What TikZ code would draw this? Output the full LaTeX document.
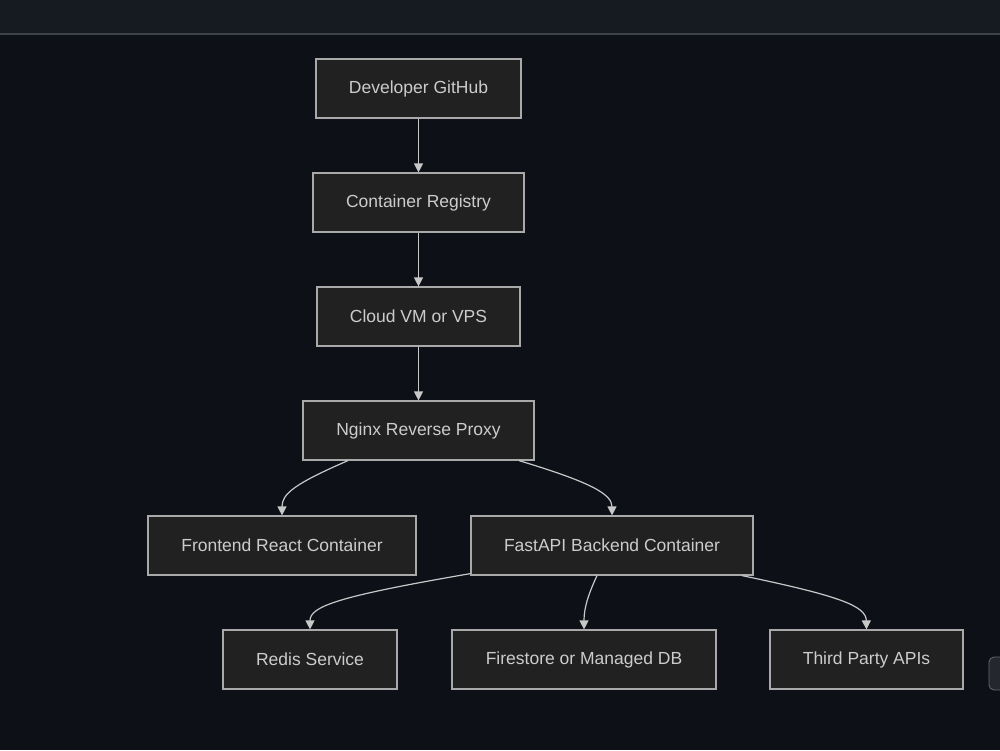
\documentclass[tikz,border=0pt]{standalone}
\usepackage{fontspec}
\setmainfont{Liberation Sans}
\usetikzlibrary{positioning,arrows.meta}
\definecolor{bgdark}  {HTML}{0D1017}
\definecolor{barfill} {HTML}{161B22}
\definecolor{barline} {HTML}{3D424A}
\definecolor{boxfill} {HTML}{212121}
\definecolor{boxline} {HTML}{A9A9A9}
\definecolor{txt}     {HTML}{CCCCCC}
\definecolor{wire}    {HTML}{C8C8C8}
\definecolor{knob}    {HTML}{24272D}
\tikzset{
  every node/.style={font=\fontsize{17.5}{21}\selectfont},
  % --- nodes
  svc/.style  = {draw=boxline, fill=boxfill, text=txt, line width=1.2pt,
                 minimum height=59pt, inner sep=0pt, align=center},
  % --- edges
  link/.style = {draw=wire, line width=1.2pt,
                 -{Triangle[width=9pt,length=9pt]}},
}
\begin{document}
\begin{tikzpicture}[x=1pt,y=-1pt]
  \fill[bgdark] (0,0) rectangle (1000,750);
  \useasboundingbox (0,0) rectangle (1000,750);
  \fill[barfill] (0,0) rectangle (1000,34);
  \draw[barline,line width=1.5pt] (0,34) -- (1000,34);
  \begin{scope}
    \clip (0,0) rectangle (1000,750);
    \draw[knob!70!white,fill=knob,rounded corners=5pt,line width=0.8pt]
      (989,657) rectangle (1020,690);
  \end{scope}

  % build and deploy chain
  \node[svc,minimum width=205pt] (github)   at (418.5,88.5)  {Developer GitHub};
  \node[svc,minimum width=211pt] (registry) at (418.5,202.5) {Container Registry};
  \node[svc,minimum width=203pt] (vm)       at (418.5,316.5) {Cloud VM or VPS};
  \node[svc,minimum width=231pt] (nginx)    at (418.5,430.5) {Nginx Reverse Proxy};

  % app containers
  \node[svc,minimum width=268pt] (frontend) at (282,545.5) {Frontend React Container};
  \node[svc,minimum width=282pt] (backend)  at (612,545.5) {FastAPI Backend Container};

  % backing services
  \node[svc,minimum width=174pt] (redis)    at (310,659.5)   {Redis Service};
  \node[svc,minimum width=264pt] (store)    at (584,659.5)   {Firestore or Managed DB};
  \node[svc,minimum width=193pt] (apis)     at (866.5,659.5) {Third Party APIs};

  \draw[link] (github)   -- (registry);
  \draw[link] (registry) -- (vm);
  \draw[link] (vm)       -- (nginx);

  \draw[link] (nginx.south -| 348,0) .. controls (294,484) and (282,494) .. (frontend.north);
  \draw[link] (nginx.south -| 519,0) .. controls (590,482) and (612,494) .. (backend.north);

  \draw[link] (backend.south west) ++(0,-2) .. controls (340,596) and (310,606) .. (redis.north);
  \draw[link] (backend.south -| 597,0) .. controls (588,595) and (584,608) .. (store.north);
  \draw[link] (backend.south -| 742,0) .. controls (840,596) and (866,606) .. (apis.north);
\end{tikzpicture}
\end{document}
